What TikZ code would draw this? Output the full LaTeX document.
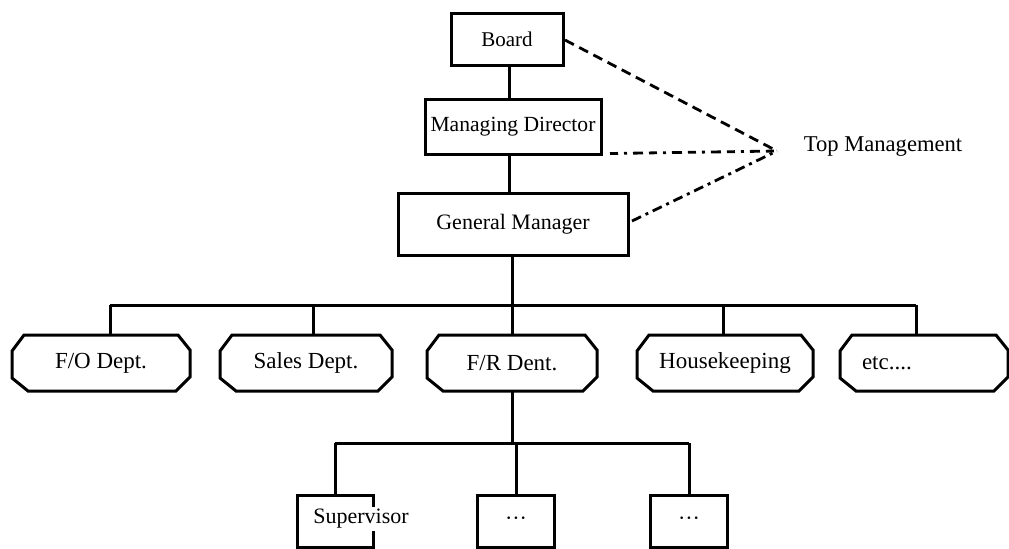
\documentclass[tikz,border=0pt]{standalone}
\usepackage{fontspec}
\setmainfont{Liberation Serif}
\usetikzlibrary{calc}
\newcommand\fsz[1]{\fontsize{#1}{#1}\selectfont}
\begin{document}
\begin{tikzpicture}[x=0.5pt,y=-0.5pt,
  every node/.style={inner sep=0pt, outer sep=0pt},
  wire/.style={line width=1.5pt, line join=miter},
  rbox/.style={draw, line width=1.5pt},
  oct/.style={minimum height=28pt, font=\fsz{11.5}},
  topline/.style={line width=1.4pt, dash pattern=on 5pt off 3pt},
  midline/.style={line width=1.4pt, dash pattern=on 4pt off 3pt on 1.5pt off 3pt on 5pt off 3pt},
  lowline/.style={line width=1.4pt, dash pattern=on 5pt off 2.5pt on 1.5pt off 2.5pt}
]
\useasboundingbox (0,0) rectangle (1009,548);

% top management chain
\node[rbox, minimum width=56pt, minimum height=26pt, font=\fsz{10.5}] (board) at (507,39) {Board};
\node[rbox, minimum width=88pt, minimum height=27.5pt, font=\fsz{10.8}] (md) at (513,127) {Managing Director};
\node[rbox, minimum width=115pt, minimum height=31pt, font=\fsz{11}] (gm) at (513,224) {General Manager};
\node[font=\fsz{11.3}] (top) at (883,147) {Top Management};
\coordinate (apex) at (777,151);
\coordinate (spine) at (509,0);

\draw[wire] (board.south -| spine) -- (md.north -| spine);
\draw[wire] (md.south -| spine) -- (gm.north -| spine);

% brackets towards the label
\draw[topline] ($(board.east)+(2,1)$) -- (apex);
\draw[midline] ($(md.south east)+(9,-1)$) -- (apex);
\draw[lowline] ($(gm.east)+(4,-3)$) -- (apex);

% departments
\node[oct, minimum width=89pt] (fo) at (101,363) {F/O Dept.};
\node[oct, minimum width=86pt] (sales) at (306,363) {Sales Dept.};
\node[oct, minimum width=85pt] (fr) at (512,363) {F/R Dent.};
\node[oct, minimum width=88pt] (hk) at (725,363) {Housekeeping};
\node[oct, minimum width=84pt, text width=62pt, align=left, inner xsep=11pt] (etc) at (924,363) {etc....};

\foreach \n in {fo,sales,fr,hk,etc}
  \draw[wire] ([xshift=6pt]\n.north west) -- ([xshift=-6pt]\n.north east)
    -- ([yshift=-7.5pt]\n.north east) -- ([yshift=7pt]\n.south east)
    -- ([xshift=-7pt]\n.south east) -- ([xshift=8pt]\n.south west)
    -- ([yshift=6.5pt]\n.south west) -- ([yshift=-8pt]\n.north west) -- cycle;

\coordinate (bus) at (0,305);
\coordinate (dfo) at (110,305);
\coordinate (dsales) at (313,305);
\coordinate (dhk) at (723,305);
\coordinate (detc) at (916,305);

\draw[wire] (gm.south -| fr.north) -- (fr.north);
\draw[wire] (dfo) -- (detc);
\draw[wire] (dfo) -- (dfo |- fo.north);
\draw[wire] (dsales) -- (dsales |- sales.north);
\draw[wire] (dhk) -- (dhk |- hk.north);
\draw[wire] (detc) -- (detc |- etc.north);

% staff under the F/R department
\node[rbox, minimum width=38pt, minimum height=26pt] (sup) at (335,521) {};
\node[rbox, minimum width=38.5pt, minimum height=26pt, font=\fsz{11}] (s2) at (516,521) {···};
\node[rbox, minimum width=38.5pt, minimum height=26pt, font=\fsz{11}] (s3) at (689,521) {···};
\node[fill=white, inner sep=1pt, font=\fsz{11}] (suptext) at (361,519) {Supervisor};

\coordinate (sbus) at (0,443);
\draw[wire] (fr.south) -- (fr.south |- sbus);
\draw[wire] (sup.north |- sbus) -- (s3.north |- sbus);
\draw[wire] (sup.north |- sbus) -- (sup.north);
\draw[wire] (s2.north |- sbus) -- (s2.north);
\draw[wire] (s3.north |- sbus) -- (s3.north);
\end{tikzpicture}
\end{document}
